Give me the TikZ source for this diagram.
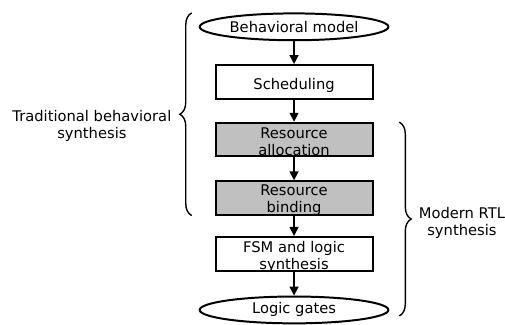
\documentclass[tikz,border=0pt]{standalone}
\usepackage{fontspec}
\setmainfont{DejaVu Sans}
\usepackage{tikz}
\usetikzlibrary{shapes.geometric,arrows.meta,decorations.pathreplacing}
\definecolor{stagegray}{RGB}{192,192,192}
\tikzset{
  flowtxt/.style={font=\fontsize{14.8}{17}\selectfont, align=center, inner sep=0pt},
  stagebox/.style={draw=black, line width=2pt, minimum width=158pt, minimum height=34pt, inner sep=0pt},
  endpoint/.style={ellipse, draw=black, line width=2pt, minimum width=190pt, minimum height=27pt, inner sep=0pt, flowtxt},
  flowarrow/.style={-{Triangle[length=9pt,width=9pt]}, line width=1.5pt},
  sidebrace/.style={decorate, decoration={brace, amplitude=12pt}, line width=1.4pt},
}

\begin{document}
\begin{tikzpicture}[x=1pt,y=1pt]
\fill[color=white] (0.000000, 0.000000) rectangle (505.000000, -320.000000);
% Drawing the flow; ellipses for the two ends
\node[endpoint] (beh) at (296.000000, -27.000000) {Behavioral model};
\node[endpoint] (gates) at (296.000000, -312.000000) {Logic gates};
% Stages
\node[stagebox, label={[flowtxt, yshift=-3.5pt]center:Scheduling}] (sched) at (296.000000, -82.500000) {};
\node[stagebox, fill=stagegray, label={[flowtxt, yshift=-2.5pt]center:{Resource\\allocation}}] (alloc) at (296.000000, -140.500000) {};
\node[stagebox, fill=stagegray, label={[flowtxt, yshift=-2pt]center:{Resource\\binding}}] (bind) at (296.000000, -199.500000) {};
\node[stagebox, label={[flowtxt, yshift=-3pt]center:{FSM and logic\\synthesis}}] (fsm) at (296.000000, -255.500000) {};
% Done with stages; drawing arrows
\draw[flowarrow] (beh) -- (sched);
\draw[flowarrow] (sched) -- (alloc);
\draw[flowarrow] (alloc) -- (bind);
\draw[flowarrow] (bind) -- (fsm);
\draw[flowarrow] (fsm) -- (gates);
% Braces and their labels
\coordinate (tradtop) at (193.000000, -13.000000);
\coordinate (tradbot) at (193.000000, -217.000000);
\coordinate (rtltop) at (402.000000, -123.000000);
\coordinate (rtlbot) at (402.000000, -318.000000);
\draw[sidebrace] (tradbot) -- (tradtop);
\draw[sidebrace] (rtltop) -- (rtlbot);
\node[flowtxt] (tradlbl) at (92.500000, -126.400000) {Traditional behavioral\\synthesis};
\node[flowtxt] (rtllbl) at (465.000000, -224.700000) {Modern RTL\\synthesis};
\end{tikzpicture}
\end{document}
